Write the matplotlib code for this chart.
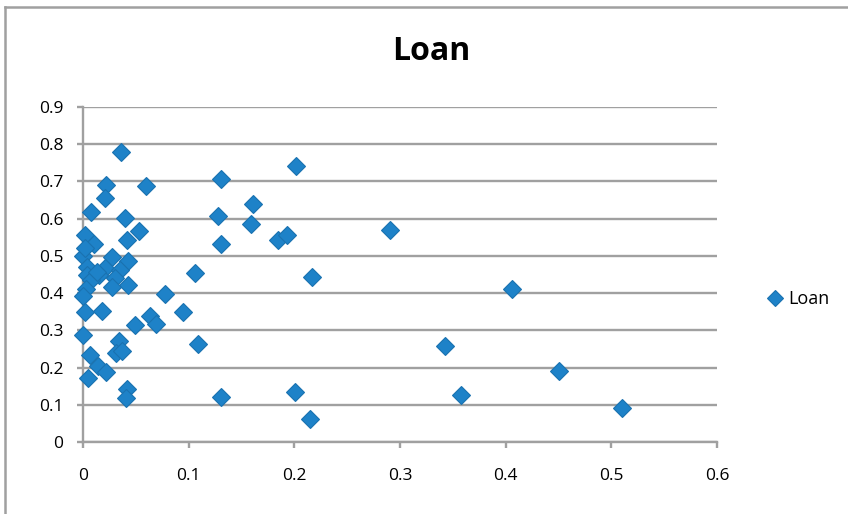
import matplotlib
matplotlib.use("Agg")
import matplotlib.pyplot as plt
from matplotlib.lines import Line2D

plt.rcParams['font.family'] = ['Open Sans', 'DejaVu Sans']

# ratio on the x axis, loan share on the y axis
ratio = [
    0.291, 0.406, 0.343, 0.450, 0.358, 0.510,
    0.2015, 0.131, 0.161, 0.128, 0.159, 0.185, 0.193, 0.131,
    0.106, 0.217, 0.078, 0.095, 0.109, 0.131, 0.2006, 0.215,
    0.036, 0.022, 0.060, 0.021, 0.008, 0.040, 0.002, 0.010,
    0.042, 0.053, 0.000, 0.027, 0.043, 0.004, 0.021, 0.035,
    0.004, 0.015, 0.030, 0.008, 0.043, 0.027, 0.003, 0.000,
    0.002, 0.018, 0.063, 0.069, 0.049, 0.000, 0.034, 0.031,
    0.037, 0.007, 0.014, 0.022, 0.005, 0.042, 0.041, 0.002,
    0.013,
]
loan = [
    0.570, 0.410, 0.258, 0.192, 0.125, 0.091,
    0.742, 0.706, 0.640, 0.608, 0.585, 0.543, 0.556, 0.532,
    0.453, 0.442, 0.398, 0.348, 0.263, 0.120, 0.135, 0.061,
    0.780, 0.691, 0.688, 0.655, 0.619, 0.603, 0.556, 0.532,
    0.543, 0.566, 0.500, 0.498, 0.485, 0.471, 0.467, 0.462,
    0.449, 0.449, 0.440, 0.435, 0.422, 0.417, 0.410, 0.392,
    0.350, 0.352, 0.339, 0.318, 0.313, 0.288, 0.272, 0.238,
    0.245, 0.233, 0.203, 0.189, 0.173, 0.143, 0.119, 0.520,
    0.458,
]
x_ticks = [0, 0.1, 0.2, 0.3, 0.4, 0.5, 0.6]
y_ticks = [0, 0.1, 0.2, 0.3, 0.4, 0.5, 0.6, 0.7, 0.8, 0.9]

blue = '#1e82c8'
edge = '#1a72b0'
grey = '#a0a0a0'

fig = plt.figure(figsize=(8.48, 5.14), dpi=100)
ax = fig.add_axes([83 / 848, 1 - 442 / 514, (717 - 83) / 848, (442 - 107) / 514])

ax.plot(ratio, loan, linestyle='none', marker='D', markersize=9.5,
        markerfacecolor=blue, markeredgecolor=edge, markeredgewidth=0.8,
        clip_on=False, zorder=3)

ax.set_xlim(0, 0.6)
ax.set_ylim(0, 0.9)
ax.set_xticks(x_ticks)
ax.set_yticks(y_ticks)
ax.set_xticklabels([f'{v:g}' for v in x_ticks])
ax.set_yticklabels([f'{v:g}' for v in y_ticks])
ax.yaxis.grid(True, color=grey, linewidth=1.7)
ax.set_axisbelow(True)
for side in ('top', 'right'):
    ax.spines[side].set_visible(False)
for side in ('left', 'bottom'):
    ax.spines[side].set_color(grey)
    ax.spines[side].set_linewidth(1.7)
ax.tick_params(axis='x', direction='out', length=4, width=1.7, color=grey,
               pad=15, labelsize=12.5)
ax.tick_params(axis='y', direction='out', length=4, width=1.7, color=grey,
               pad=10, labelsize=12.5)

fig.text(431 / 848, 1 - 52 / 514, 'Loan', ha='center', va='center',
         fontsize=23, fontweight='bold')

handle = Line2D([], [], linestyle='none', marker='D', markersize=8,
                markerfacecolor=blue, markeredgecolor=edge, markeredgewidth=0.8)
fig.legend([handle], ['Loan'], loc='center left',
           bbox_to_anchor=(750 / 848, 1 - 299 / 514), frameon=False,
           handlelength=1.0, handletextpad=0.2, fontsize=13)

# outer chart border (left and top edges)
fig.add_artist(Line2D([5 / 848, 5 / 848], [0, 1 - 7 / 514], color=grey,
                      linewidth=1.8, transform=fig.transFigure))
fig.add_artist(Line2D([5 / 848, 1], [1 - 7 / 514, 1 - 7 / 514], color=grey,
                      linewidth=1.8, transform=fig.transFigure))

fig.savefig('out.png', dpi=100)
